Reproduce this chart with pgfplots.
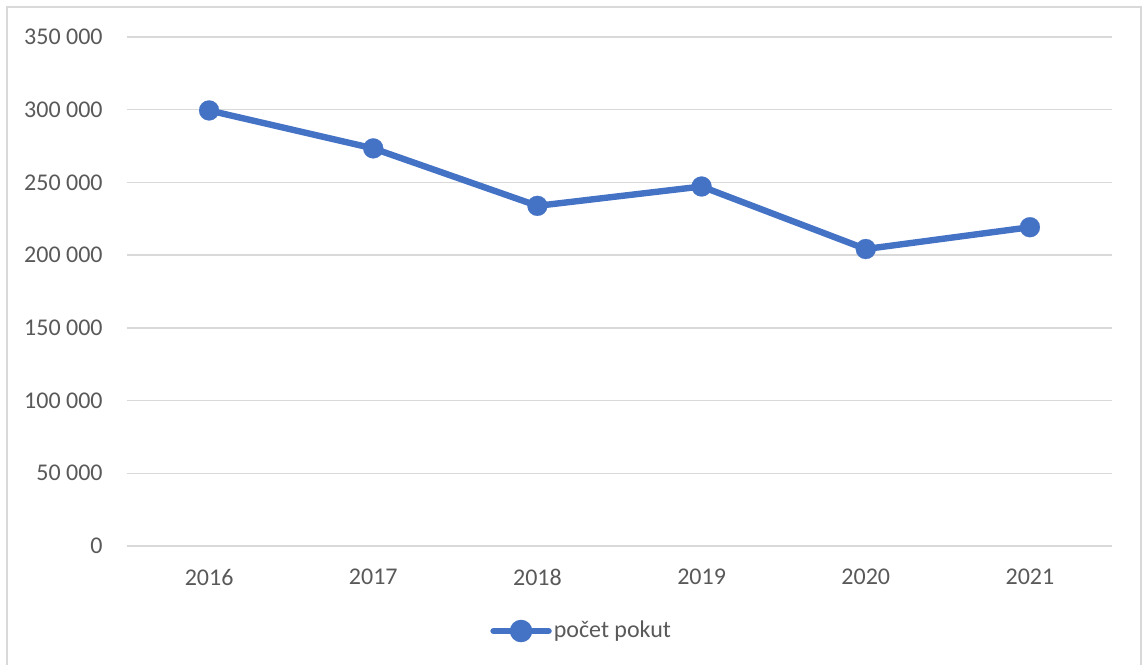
\documentclass[border=0pt]{standalone}
\usepackage{pgfplots}
\pgfplotsset{compat=1.18}
\usepackage{fontspec}
\setmainfont{Carlito}
\definecolor{serie}{HTML}{4472C4}
\definecolor{mrizka}{HTML}{D9D9D9}
\definecolor{popis}{HTML}{595959}
\begin{document}
\begin{tikzpicture}
	\path[use as bounding box] (-63.5pt,-59pt) rectangle (508pt,273pt);
	\draw[mrizka, line width=0.75pt] (-60pt,-60pt) -- (-60pt,269.5pt) -- (507pt,269.5pt) -- (507pt,-60pt);
	\begin{axis}[
		scale only axis,
		width=492.5pt, height=254.5pt,
		xmin=-0.5, xmax=5.5,
		ymin=0, ymax=350000,
		scaled y ticks=false,
		xtick={0,1,2,3,4,5},
		xticklabels={2016,2017,2018,2019,2020,2021},
		ytick={0,50000,100000,150000,200000,250000,300000,350000},
		yticklabels={0,50 000,100 000,150 000,200 000,250 000,300 000,350 000},
		major tick length=0pt,
		ymajorgrids,
		grid style={mrizka, line width=0.75pt},
		axis line style={draw=none},
		font=\fontsize{12pt}{14pt}\selectfont,
		tick label style={text=popis, inner sep=0pt},
		yticklabel style={xshift=-12pt},
		xticklabel style={yshift=-11.5pt},
		legend style={at={(0.3685,-0.167)}, anchor=west, draw=none, fill=none,
			inner sep=0pt, nodes={inner sep=1pt, text=popis}},
		legend image code/.code={
			\draw[serie, line width=3.2pt, line cap=round] (0pt,0pt) -- (27.5pt,0pt);
			\fill[serie] (13.75pt,0pt) circle (4pt);
		},
		]
		\addplot[serie, line width=3.2pt, mark=*, mark size=4pt,
			mark options={fill=serie, draw=serie, line width=0.1pt, scale=1.25}]
		coordinates {(0,299500) (1,273400) (2,233900) (3,247200) (4,204200) (5,219200)};
		\legend{počet pokut}
	\end{axis}
\end{tikzpicture}
\end{document}
